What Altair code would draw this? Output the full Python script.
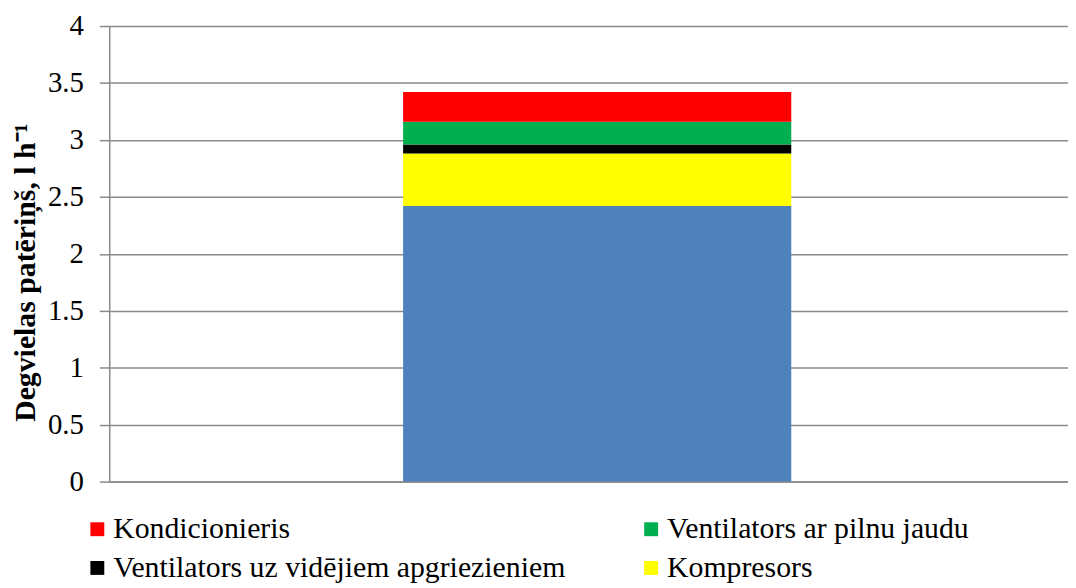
import altair as alt
import pandas as pd

# Data
series = ["Pamatpatēriņš", "Kompresors", "Ventilators uz vidējiem apgriezieniem",
          "Ventilators ar pilnu jaudu", "Kondicionieris"]
values = [2.42, 0.46, 0.08, 0.20, 0.26]
colors = ["#4F81BD", "#FFFF00", "#000000", "#00B050", "#FF0000"]
stack_order = [1, 2, 3, 4, 5]
legend_items = ["Kondicionieris", "Ventilators ar pilnu jaudu",
                "Ventilators uz vidējiem apgriezieniem", "Kompresors"]
y_ticks = [0, 0.5, 1, 1.5, 2, 2.5, 3, 3.5, 4]

df = pd.DataFrame({
    "kat": ["A"] * len(series),
    "series": series,
    "value": values,
    "ord": stack_order,
})

FONT = "Liberation Serif"
GRID = "#8A8A8A"

chart = alt.Chart(df).mark_bar().encode(
    x=alt.X("kat:N",
            scale=alt.Scale(paddingInner=0, paddingOuter=0.735, align=0.515),
            axis=alt.Axis(labels=False, ticks=False, title=None, domain=True,
                          domainColor=GRID, domainWidth=1.5)),
    y=alt.Y("value:Q", stack="zero",
            scale=alt.Scale(domain=[0, 4], nice=False),
            axis=alt.Axis(values=y_ticks, format="~g",
                          title="Degvielas patēriņš, l h⁻¹",
                          titleFont=FONT, titleFontSize=30, titleFontWeight="bold",
                          titleColor="#000000", titleAngle=270,
                          titleX=-84, titleY=248, titleAlign="center",
                          titleBaseline="middle",
                          labelFont=FONT, labelFontSize=29, labelColor="#000000",
                          labelPadding=16, tickSize=10, tickColor=GRID, tickWidth=1.5,
                          domainColor=GRID, domainWidth=1.5,
                          grid=True, gridColor=GRID, gridWidth=1.5)),
    color=alt.Color("series:N",
                    scale=alt.Scale(domain=series, range=colors),
                    legend=alt.Legend(values=legend_items, title=None, orient="none",
                                      legendX=-27, legendY=492, columns=2,
                                      direction="horizontal",
                                      columnPadding=71, rowPadding=9, padding=0,
                                      symbolType="square", symbolSize=196,
                                      symbolStrokeWidth=0, labelOffset=1,
                                      labelFont=FONT, labelFontSize=30,
                                      labelColor="#000000", labelLimit=0)),
    order=alt.Order("ord:Q", sort="ascending"),
).properties(
    width=966,
    height=459,
    padding={"left": 102, "top": 16, "right": 0, "bottom": 101},
    autosize=alt.AutoSizeParams(type="none"),
).configure(
    font=FONT,
    style={"guide-label": {"font": FONT}, "guide-title": {"font": FONT}},
).configure_axis(
    labelFont=FONT, titleFont=FONT
).configure_legend(
    labelFont=FONT
).configure_view(stroke=None)

chart.save("out.html", embed_options={"renderer": "svg", "actions": False})
